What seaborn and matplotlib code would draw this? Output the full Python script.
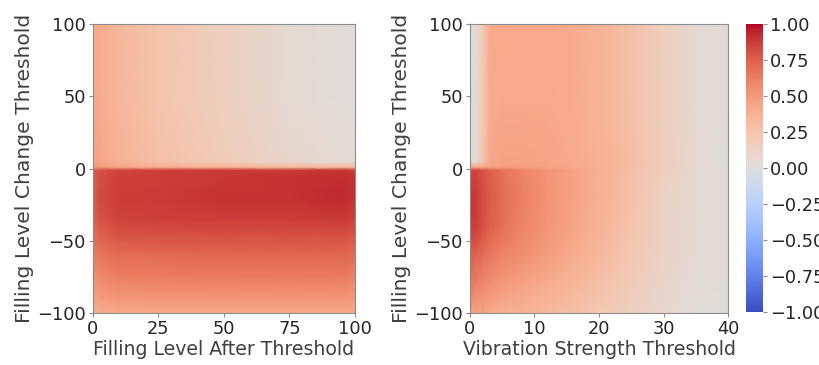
import numpy as np
import matplotlib
matplotlib.use("Agg")
import matplotlib.pyplot as plt
import seaborn as sns

# 左圖：Filling Level After Threshold vs Filling Level Change Threshold
fl_after = [0, 3, 10, 25, 50, 75, 95, 100]
fl_change = [-100, -90, -75, -60, -50, -35, -20, -5, -1, 1, 5, 50, 100]
corr_left = [
    [0.38, 0.40, 0.42, 0.42, 0.42, 0.42, 0.42, 0.42],   # -100
    [0.45, 0.48, 0.50, 0.52, 0.52, 0.52, 0.52, 0.50],   # -90
    [0.55, 0.58, 0.62, 0.63, 0.64, 0.64, 0.64, 0.60],   # -75
    [0.62, 0.66, 0.70, 0.71, 0.72, 0.72, 0.72, 0.70],   # -60
    [0.68, 0.72, 0.77, 0.78, 0.78, 0.78, 0.78, 0.76],   # -50
    [0.74, 0.80, 0.85, 0.86, 0.87, 0.87, 0.88, 0.86],   # -35
    [0.76, 0.83, 0.87, 0.88, 0.90, 0.90, 0.93, 0.90],   # -20
    [0.76, 0.82, 0.86, 0.87, 0.89, 0.90, 0.92, 0.90],   # -5
    [0.75, 0.80, 0.85, 0.86, 0.88, 0.88, 0.90, 0.88],   # -1
    [0.50, 0.50, 0.45, 0.42, 0.38, 0.35, 0.35, 0.35],   # 1
    [0.45, 0.43, 0.36, 0.28, 0.18, 0.09, 0.05, 0.05],   # 5
    [0.42, 0.40, 0.33, 0.25, 0.15, 0.06, 0.03, 0.03],   # 50
    [0.42, 0.40, 0.33, 0.25, 0.15, 0.06, 0.03, 0.03],   # 100
]

# 右圖：Vibration Strength Threshold vs Filling Level Change Threshold
vib_strength = [0, 1, 2, 3, 5, 8, 12, 16, 20, 25, 30, 35, 40]
fl_change_r = [-100, -80, -60, -40, -20, -1, 1, 5, 50, 100]
corr_right = [
    [0.45, 0.45, 0.45, 0.42, 0.38, 0.36, 0.32, 0.28, 0.22, 0.15, 0.08, 0.03, 0.02],  # -100
    [0.65, 0.62, 0.58, 0.55, 0.50, 0.46, 0.40, 0.34, 0.28, 0.19, 0.10, 0.04, 0.03],  # -80
    [0.75, 0.73, 0.70, 0.66, 0.60, 0.55, 0.48, 0.40, 0.33, 0.22, 0.12, 0.05, 0.03],  # -60
    [0.88, 0.86, 0.80, 0.75, 0.68, 0.60, 0.52, 0.44, 0.36, 0.25, 0.13, 0.05, 0.03],  # -40
    [0.90, 0.88, 0.82, 0.77, 0.70, 0.62, 0.53, 0.45, 0.38, 0.27, 0.14, 0.06, 0.03],  # -20
    [0.85, 0.85, 0.80, 0.75, 0.68, 0.60, 0.52, 0.45, 0.38, 0.28, 0.15, 0.06, 0.03],  # -1
    [0.45, 0.45, 0.45, 0.47, 0.48, 0.48, 0.45, 0.42, 0.38, 0.30, 0.17, 0.07, 0.03],  # 1
    [0.05, 0.07, 0.22, 0.42, 0.45, 0.45, 0.43, 0.41, 0.37, 0.29, 0.16, 0.07, 0.03],  # 5
    [0.03, 0.05, 0.20, 0.40, 0.42, 0.42, 0.42, 0.40, 0.36, 0.28, 0.15, 0.06, 0.03],  # 50
    [0.03, 0.05, 0.20, 0.40, 0.42, 0.42, 0.42, 0.40, 0.36, 0.28, 0.15, 0.06, 0.03],  # 100
]

sns.set_style("ticks", {"axes.edgecolor": "0.55", "xtick.color": "0.55", "ytick.color": "0.55"})
plt.rcParams["font.family"] = ["DejaVu Sans"]
cmap = sns.color_palette("coolwarm", as_cmap=True)

fig = plt.figure(figsize=(8.2, 3.65), dpi=100)
ax1 = fig.add_axes([0.113, 0.142, 0.320, 0.792])
ax2 = fig.add_axes([0.573, 0.142, 0.315, 0.792])
cax = fig.add_axes([0.910, 0.145, 0.021, 0.790])

mesh = ax1.pcolormesh(fl_after, fl_change, np.array(corr_left), cmap=cmap,
                      vmin=-1, vmax=1, shading="gouraud")
ax2.pcolormesh(vib_strength, fl_change_r, np.array(corr_right), cmap=cmap,
               vmin=-1, vmax=1, shading="gouraud")

fs = 12.8
for ax, xlabel, xticks in [(ax1, "Filling Level After Threshold", [0, 25, 50, 75, 100]),
                           (ax2, "Vibration Strength Threshold", [0, 10, 20, 30, 40])]:
    ax.set_xticks(xticks)
    ax.set_yticks([-100, -50, 0, 50, 100])
    ax.set_xlabel(xlabel, fontsize=13.6, color="0.25", labelpad=1)
    ax.set_ylabel("Filling Level Change Threshold", fontsize=14.6, color="0.25", labelpad=2)
    ax.tick_params(labelsize=fs, labelcolor="0.15", length=3, width=0.8, pad=2)
    for s in ax.spines.values():
        s.set_linewidth(0.8)

cb = fig.colorbar(mesh, cax=cax)
cb.set_ticks([1, 0.75, 0.5, 0.25, 0, -0.25, -0.5, -0.75, -1])
cb.ax.tick_params(labelsize=fs, labelcolor="0.15", length=3, width=0.8, pad=2)
cb.outline.set_visible(False)

plt.savefig("out.png", dpi=100)
